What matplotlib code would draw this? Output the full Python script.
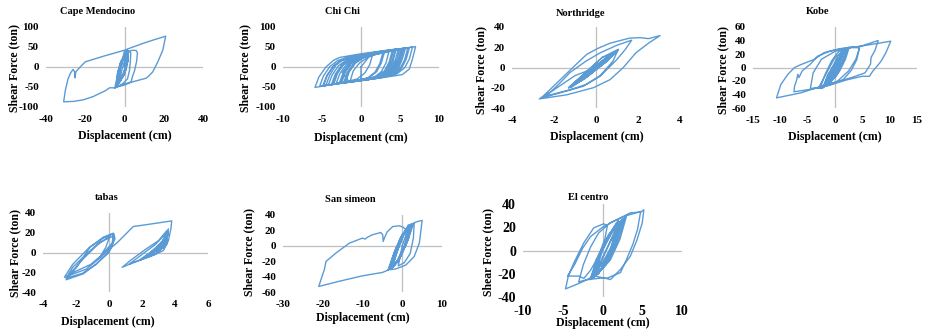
import matplotlib.pyplot as plt

plt.rcParams['font.family'] = ['Liberation Serif', 'DejaVu Serif']
plt.rcParams['font.weight'] = 'bold'
plt.rcParams['axes.unicode_minus'] = False

# hysteresis traces: (displacement cm, shear force ton)
cape_pts = [
    (0, 0), (1.2, 14), (1.3, 38), (1.2, 14), (0, -14), (-2.6, -37), (-2.6, -12), (-1.2, 15),
    (1.2, 40), (1.4, 14), (0.2, -16), (-3, -40), (-2.9, -14), (-1.5, 12), (0.8, 34),
    (1.0, 10), (-0.2, -18), (-3.4, -44), (-3.2, -16), (-1.8, 12), (1.4, 41), (1.6, 16),
    (0.3, -12), (-2.7, -38), (-2.5, -10), (-0.9, 18), (1, 36), (1.1, 8), (-0.4, -20),
    (-3.2, -42), (-3.3, -14), (-1.6, 14), (1.3, 39), (1.5, 14), (0.1, -16), (-2.9, -41),
    (-3, -16), (-1.3, 12), (0.9, 33), (0.7, 6), (-0.8, -24), (-3.6, -45), (-3.5, -16),
    (-1.9, 14), (1.5, 42), (1.8, 18), (0.6, -8), (-2, -30), (-3.8, -46), (-3.7, -18),
    (-2.2, 8), (0.6, 30), (1.6, 40), (1.7, 14), (0.4, -10), (-2.2, -33), (-2.2, -8),
    (-0.6, 22), (1.1, 38),
    (2.5, 38), (3.2, 36), (3, 15), (2.5, -10), (1.5, -30), (-1, -42), (-5, -53), (-4.2, -35),
    (-3, -10), (-1.5, 15), (0.5, 35), (2.5, 40), (4.5, 42), (6, 41), (6.6, 35), (6.2, 15),
    (5.2, -8), (4, -25), (3.4, -37), (2.5, -40), (0, -45), (-4, -50), (-3.5, -30), (-2, 0),
    (0, 40), (1, 44), (5, 51), (10, 60), (15, 68), (21, 77), (20.2, 58), (19.5, 42), (17, 13),
    (14.4, -12), (12.5, -22), (11, -28), (7.6, -32.5), (4.2, -37), (0, -42), (-5, -52),
    (-7.6, -52), (-10, -60), (-12.7, -66), (-16, -74), (-21, -82), (-26, -86), (-31, -87),
    (-30.8, -80), (-30.2, -60), (-29.5, -45), (-28.8, -30), (-27.5, -15), (-26.2, -6),
    (-25.4, -12), (-25.2, -27), (-24.8, -12), (-22, 3), (-20, 13), (-10, 28), (0, 42),
    (2, 40), (1.5, 20), (0.5, 0), (-1, -20), (-2.5, -38), (-1.5, -10), (0, 15), (1, 38),
    (0, 0),
]

chichi_pts = [
    (0, 0), (1, 25), (2, 33), (4, 42), (7, 51), (6.6, 20), (6.2, -5), (5.3, -19), (3, -26),
    (0, -34), (-3, -42), (-5.9, -51), (-5.4, -25), (-4.5, 0), (-3.5, 17), (-2.7, 24), (0, 33),
    (3, 41), (5.5, 47), (5.1, 20), (4.6, -5), (3.8, -21), (1, -31), (-2, -39), (-4.5, -46),
    (-4, -20), (-3.2, 5), (-2.3, 18), (-1, 27), (2, 37), (4.5, 44), (4.1, 15), (3.5, -10),
    (2.5, -25), (0, -33), (-3.5, -43), (-3, -15), (-2.2, 8), (-1.2, 22), (1, 31), (3.5, 41),
    (6.2, 48), (5.8, 20), (5.2, -3), (4.3, -18), (2, -28), (-1, -37), (-2.8, -41), (-2.3, -15),
    (-1.5, 8), (-0.5, 22), (1, 29), (3, 37), (2.6, 10), (2, -12), (1, -27), (-1.5, -37),
    (-4.8, -47), (-4.3, -20), (-3.5, 3), (-2.5, 17), (0, 31), (2.5, 39), (5, 46), (4.6, 18),
    (4, -5), (3, -21), (0.5, -32), (-2, -38), (-1.6, -12), (-0.8, 10), (0.3, 24), (2, 32),
    (4, 40), (3.6, 12), (3, -10), (2, -24), (-1, -35), (-3.8, -44), (-3.3, -18), (-2.5, 5),
    (-1.5, 19), (0.5, 30), (1.5, 32), (1.1, 5), (0.5, -15), (-0.5, -30), (-2.5, -40),
    (-2, -12), (-1.2, 10), (0, 25), (2.5, 38), (4.8, 45), (4.4, 18), (3.8, -5), (2.8, -22),
    (0, -33), (-2.2, -39), (-1.8, -14), (-1, 8), (0, 21), (2, 34), (4.2, 43), (3.8, 14),
    (3.2, -8), (2.2, -24), (-0.5, -34), (-4.2, -45), (-3.7, -20), (-2.9, 3), (-1.9, 17),
    (0.5, 31), (3, 39), (5.7, 47), (5.3, 20), (4.8, -3), (3.9, -20), (1.5, -30), (-1.2, -37),
    (-3.2, -42), (-2.7, -16), (-1.9, 6), (-1, 20), (1.5, 31), (3.8, 41), (6.6, 50), (6.2, 20),
    (5.6, -2), (4.6, -17), (2.5, -27), (0, -34), (-2.6, -40), (-2.1, -13), (-1.3, 9),
    (-0.3, 22), (1.8, 32), (2.8, 35), (2.4, 8), (1.8, -13), (0.8, -28), (-1.8, -38),
    (-5.3, -48), (-4.8, -22), (-4, 1), (-3, 16), (-1.5, 26), (1, 33), (3.2, 40), (5.2, 46),
    (4.8, 18), (4.2, -4), (3.3, -21), (0, -34), (-1.4, -36), (-1, -10), (-0.2, 10),
    (1.2, 28), (3, 38), (5.3, 46), (4.9, 18), (4.3, -4), (3.4, -20), (1, -31), (-1.8, -38),
    (-3.6, -43), (-3.1, -17), (-2.3, 5), (-1.3, 19), (1, 30), (3.4, 40), (6, 48), (5.6, 18),
    (5, -4), (4, -19), (1.5, -29), (-1.5, -37), (-2.4, -14), (-1.6, 7), (-0.6, 21), (1.5, 31),
    (4.4, 43), (4, 14), (3.4, -8), (2.4, -23), (-0.5, -34), (-3, -41), (-4.9, -47),
    (-4.4, -22), (-3.6, 1), (-2.6, 16), (-0.5, 28), (2.2, 37), (3.6, 40), (3.2, 10),
    (2.6, -12), (1.6, -27), (-1, -35), (-2, -38), (-1.5, -12), (-0.7, 10), (0.5, 25),
    (2.8, 36), (5.4, 46), (5, 18), (4.4, -5), (3.5, -21), (0, -33), (0, 0),
]

northridge_pts = [
    (0, 0), (0.8, 14), (1, 16), (0.6, 9), (-0.5, -10), (-1.2, -18), (-0.9, -14), (0.3, 4),
    (1.05, 17), (0.7, 10), (-0.3, -7), (-1.25, -19), (-0.8, -11), (0.4, 7), (0.9, 15),
    (0.5, 6), (-0.6, -12), (-1.1, -17), (-0.7, -9), (0.5, 9), (1, 16), (0.4, 5), (-0.7, -13),
    (-1.2, -19), (-0.5, -6), (0.7, 12), (0.95, 15), (0.2, 2), (-1, -16), (-1.3, -20),
    (-0.6, -8), (0.4, 8), (1, 16), (0.6, 8), (-0.4, -9), (-1.15, -18), (-0.5, -6), (0.5, 10),
    (1.05, 17), (0.5, 6), (-0.5, -10), (-1.2, -20), (-0.7, -10), (0.3, 5), (0.95, 15),
    (0.6, 9), (-0.3, -5), (-1.1, -17), (-0.6, -7), (0.6, 11), (1, 16), (0.45, 5),
    (-0.6, -11), (-1.25, -19), (-0.8, -12), (0.2, 3), (0.9, 14),
    (0.3, 10), (-0.5, -5), (-1.3, -20),
    (-0.5, -5), (0.3, 10), (1.06, 18), (0.8, 6), (0.2, -8), (-0.5, -17), (-1.24, -22),
    (-1.8, -25), (-2.35, -28), (-1.8, -17), (-1.24, -5), (-0.5, 6), (0.2, 14.5), (1, 22),
    (1.7, 27), (1.4, 18), (1, 8), (0.2, -8.6), (-0.6, -18.5), (-1.7, -25), (-2.6, -30),
    (-1.7, -12), (-1, 2), (-0.44, 13), (0.1, 19), (0.67, 24), (1.6, 29), (2.1, 29.5),
    (2.5, 28.5), (3.05, 31.5), (2.5, 24), (1.9, 14.5), (1.3, 0), (0.67, -12), (-0.13, -20),
    (-1.4, -27), (-2.7, -31), (-2, -22), (-1, -8), (0, 0),
]

kobe_pts = [
    (0, 0), (1, 18), (2, 27), (1.5, 8), (0.3, -12), (-1.5, -25), (-0.8, -8), (0.5, 12),
    (2.2, 29), (1.3, 5), (0, -15), (-2, -28), (-1.2, -10), (0.2, 8), (1.6, 24), (1, 6),
    (-0.3, -14), (-1.8, -26), (-0.6, -6), (0.8, 14), (2.4, 30), (1.6, 10), (0.2, -10),
    (-2.2, -30), (-1.4, -12), (0, 6), (1.2, 20), (0.6, 2), (-1, -20), (-1.6, -24), (-0.4, -2),
    (1, 16), (2, 25), (1.2, 4), (-0.2, -16), (-2.4, -31), (-1.5, -18), (-0.5, 0), (0.6, 18),
    (1.8, 28), (0.9, 8), (-0.4, -10), (-1.3, -22), (-0.3, -5), (0.7, 10), (1.4, 22),
    (2.6, 30), (1.9, 12), (0.8, -6), (-0.8, -22), (-2.6, -28), (-1.8, -10), (-0.6, 10),
    (0.5, 22), (1.3, 27), (0.4, 4), (-0.9, -16), (-2.4, -31),
    (-3, -30), (-4.5, -31), (-4, -8),
    (-2.5, 12), (0, 24), (3, 30), (4.5, 31), (4, 12), (3, -4), (1.5, -18), (-1, -26),
    (-3, -30), (-2, -15), (0, 15), (2.3, 29), (4.1, 30), (6.6, 36.5), (7.9, 40), (7.3, 25),
    (6.6, 15), (6.5, 5), (5.5, -8), (3, -15), (0, -22), (-3, -29), (-6.2, -37.5),
    (-10.7, -45), (-10.3, -35), (-9.9, -25), (-8.6, -10), (-7.4, 0), (-6.2, 4.4), (-3.8, 12),
    (-2, 22), (0, 26), (2.3, 29), (5, 32), (8, 36), (10.2, 39), (9.3, 21.7), (8.4, 9),
    (7.5, 0), (6.9, -5.5), (6.3, -13), (5, -13), (2.3, -18), (-2, -28.6), (-5, -33),
    (-7.5, -36), (-7.4, -28), (-7, -18), (-6.8, -10), (-6.6, -15), (-6, -5), (-4.5, 5),
    (-3.2, 16.7), (-1, 24), (1, 28), (3, 30), (4.5, 29), (3.8, 12), (2.5, -5), (0.5, -20),
    (-2, -28), (-1, -12), (0, 0),
]

tabas_pts = [
    (0, 0), (-0.8, -12), (-1.6, -21), (-2.6, -26), (-2.2, -15), (-1.4, -2), (-0.6, 10),
    (0.3, 17), (0.2, 8), (-0.5, -5), (-1.4, -17), (-2.7, -25), (-2.2, -12), (-1.2, 5),
    (-0.3, 15), (0.3, 19), (0.36, 13.8), (0.06, 2), (-0.75, -11.5), (-1.56, -21.6),
    (-2.6, -27.6), (-1.96, -14.9), (-1.15, 5.4), (-0.35, 15.5), (0.26, 19.6), (0.2, 10),
    (-0.4, -2), (-1.1, -12), (-2.4, -22), (-1.56, -6.4), (-0.75, 7), (0.06, 17), (-0.2, 5),
    (-0.55, -4.7), (0.5, 10), (1.47, 26.3), (2.6, 29), (3.8, 32), (3.75, 24), (3.6, 12),
    (3.3, 2), (2.5, -4), (1.5, -10), (0.8, -15), (1.3, -8), (2.2, 3), (3, 12), (3.5, 22),
    (3.4, 10), (3, 0), (2, -7), (1.2, -12), (2, -2), (2.8, 8), (3.5, 20), (3.5, 8), (2.8, -2),
    (1.8, -8), (2.5, 0), (3.2, 10), (3.6, 24), (3.5, 12), (3, 3), (2.2, -4), (2.8, 4),
    (3.4, 14), (3.6, 21), (3.3, 8), (2.6, -1), (3, 6), (3.5, 16), (3.4, 6), (2.9, 1),
    (3.3, 10), (3.5, 18), (3.2, 4), (2.4, -3), (3, 7), (3.6, 19), (3.4, 9), (2.7, 0),
    (3.2, 8), (3.5, 14), (3.1, 3), (3.4, 12), (3.55, 17),
]

sansimeon_pts = [
    (0, 0), (1, 15), (2.5, 28), (1.2, 5), (-0.8, -18), (-3, -30), (-1.5, -5), (0.5, 18),
    (2, 26), (0.8, 2), (-1.2, -20), (-3.5, -31), (-2, -8), (0, 15), (2.8, 29), (1.5, 8),
    (-0.5, -14), (-2.5, -28), (-1, -3), (0.8, 20), (2.2, 27), (1, 3), (-1, -18), (-3.2, -30),
    (-1.8, -6), (0.2, 16), (2.6, 28), (1.3, 6), (-0.6, -16), (-2.8, -29), (-1.2, -4),
    (0.6, 18), (1.8, 24), (0.5, 0), (-1.5, -22), (-3.5, -31), (-2.2, -12), (-0.5, 10),
    (1.5, 25), (2.4, 28), (1.1, 4), (-0.9, -20), (-2.6, -29), (-1.4, -9), (0.3, 13),
    (2.2, 27), (1.6, 10), (-0.2, -12), (-2, -26), (-3.3, -31),
    (-5, -34.6), (-10, -39),
    (-15.8, -46), (-21, -52.8), (-20.2, -40), (-19.6, -31), (-19.2, -20.4), (-16.7, -9.5),
    (-13.3, 3.5), (-10, 10), (-9.3, 8.7), (-8.8, 11), (-7.5, 14.3), (-5.4, 17.3), (-4.9, 14),
    (-4.8, 5.6), (-4.5, 10), (-3.8, 18), (-2.4, 25), (-0.75, 26), (0.3, 24), (1, 20), (2, 27),
    (3.5, 31), (5, 33), (4.7, 20), (4.3, 3.5), (3, -14), (0.9, -25), (-1.6, -30), (-3, -31),
    (-1.5, -10), (0, 12), (1.5, 27), (3, 29), (2.8, 10), (2, -10), (0.5, -22), (-1, -26),
    (0, 0),
]

elcentro_pts = [
    (0, 0), (1.5, 20), (2.5, 27), (1.8, 8), (0.5, -12), (-1.2, -24), (-0.5, -5), (0.8, 14),
    (2.2, 25), (1.5, 5), (0, -15), (-1.5, -25), (-0.8, -8), (0.5, 10), (2, 26), (1.2, 2),
    (-0.3, -18), (-1, -22), (-0.2, -2), (1, 15), (2.8, 28), (2, 8), (0.7, -10), (-1.3, -23),
    (-0.6, -6), (0.7, 12), (1.8, 24), (1, 0), (-0.5, -20), (-1.4, -24), (-0.4, -4),
    (1.2, 17), (2.6, 27), (1.6, 4), (0.2, -14), (-1.1, -23), (0, -6), (1.3, 12), (2.3, 24),
    (1.3, 6), (-0.1, -12), (-1.6, -25), (-0.7, -10), (0.4, 6), (1.6, 20), (3, 29), (2.2, 10),
    (1, -8), (-0.8, -21), (0.2, -4), (1.5, 16), (2.1, 22), (0.9, -2), (-0.5, -20),
    (-1.9, -25), (-3.2, -29),
    (-4.65, -33), (-4.3, -22), (-3.6, -10.6), (-2.35, 6.6), (-1.1, 19.5), (0.16, 23),
    (0.6, 21), (0.3, 10), (-0.5, -5), (-1.5, -17), (-2.35, -24), (-3, -22), (-4.4, -22),
    (-3.5, -12), (-2.5, 2), (-1.5, 12), (0, 20), (1.85, 26.7), (3.5, 32.4), (4.8, 33),
    (5.2, 35), (5, 23.8), (4.36, 9.5), (3.5, -4.9), (2.26, -16.3), (1, -25), (0.16, -23.5),
    (-1.9, -25), (-3, -27), (-2.4, -12), (-1.5, 3), (-0.5, 15), (1, 24), (3, 30), (4.8, 33.5),
    (4.4, 18), (3.8, 5), (3, -8), (2.26, -19), (0.5, -24), (-1, -22), (0, 0),
]

titles = ['Cape Mendocino', 'Chi Chi', 'Northridge', 'Kobe', 'tabas', 'San simeon', 'El centro']
traces = [cape_pts, chichi_pts, northridge_pts, kobe_pts, tabas_pts, sansimeon_pts, elcentro_pts]
x_ticks = [
    [-40, -20, 0, 20, 40],
    [-10, -5, 0, 5, 10],
    [-4, -2, 0, 2, 4],
    [-15, -10, -5, 0, 5, 10, 15],
    [-4, -2, 0, 2, 4, 6],
    [-30, -20, -10, 0, 10],
    [-10, -5, 0, 5, 10],
]
y_ticks = [
    [-100, -50, 0, 50, 100],
    [-100, -50, 0, 50, 100],
    [-40, -20, 0, 20, 40],
    [-60, -40, -20, 0, 20, 40, 60],
    [-40, -20, 0, 20, 40],
    [-60, -40, -20, 0, 20, 40],
    [-40, -20, 0, 20, 40],
]

# layout in pixels: plot box (left, top, right, bottom), title, ylabel and xlabel centres
W, H = 926, 331
boxes = [(46, 27, 203, 107), (283, 27, 439, 107), (512, 27, 680, 108), (753, 27, 917, 108),
         (43, 213, 208, 292), (283, 215, 442, 292), (523, 204, 682, 297)]
title_xy = [(98, 12), (342, 12), (580, 13), (818, 12), (107, 198), (350, 199), (588, 197)]
ylab_xy = [(14, 68), (245, 68), (481, 70), (723, 70), (15, 253), (249, 252), (488, 252)]
xlab_xy = [(125, 136), (361, 138), (597, 137), (835, 137), (108, 322), (363, 318), (603, 323)]
tick_fs = [8, 8, 8, 8, 8, 8, 10]

fig = plt.figure(figsize=(W / 100, H / 100), dpi=100)

for i in range(7):
    l, t, r, b = boxes[i]
    ax = fig.add_axes([l / W, 1 - b / H, (r - l) / W, (b - t) / H])
    ax.patch.set_alpha(0)
    xs = [p[0] for p in traces[i]]
    ys = [p[1] for p in traces[i]]
    ax.axhline(0, color='#BFBFBF', lw=0.9, zorder=0)
    ax.axvline(0, color='#BFBFBF', lw=0.9, zorder=0)
    ax.plot(xs, ys, color='#5B9BD5', lw=1.0, solid_joinstyle='round')
    ax.set_xticks(x_ticks[i])
    ax.set_yticks(y_ticks[i])
    ax.set_xlim(x_ticks[i][0], x_ticks[i][-1])
    ax.set_ylim(y_ticks[i][0], y_ticks[i][-1])
    for s in ax.spines.values():
        s.set_visible(False)
    ax.tick_params(axis='x', length=0, labelsize=tick_fs[i], pad=6)
    ax.tick_params(axis='y', length=0, labelsize=tick_fs[i], pad=5)
    for lbl in ax.get_xticklabels() + ax.get_yticklabels():
        lbl.set_fontweight('bold')

    fig.text(title_xy[i][0] / W, 1 - title_xy[i][1] / H, titles[i],
             ha='center', va='center', fontsize=7.5, fontweight='bold')
    fig.text(ylab_xy[i][0] / W, 1 - ylab_xy[i][1] / H, 'Shear Force (ton)',
             ha='center', va='center', rotation=90, fontsize=8.5, fontweight='bold')
    fig.text(xlab_xy[i][0] / W, 1 - xlab_xy[i][1] / H, 'Displacement (cm)',
             ha='center', va='center', fontsize=8.5, fontweight='bold')

fig.savefig('out.png', dpi=100)
plt.close(fig)
